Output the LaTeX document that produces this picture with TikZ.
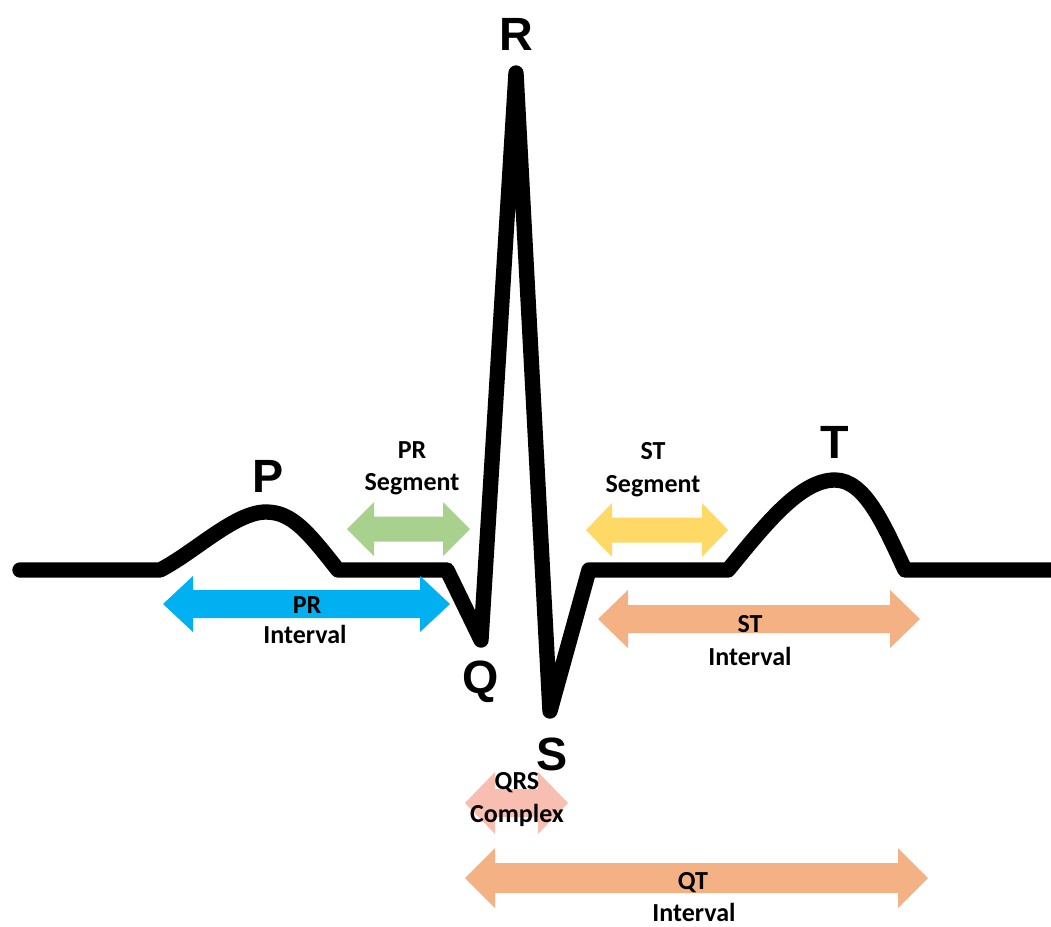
\documentclass[tikz,border=0pt]{standalone}
\usepackage{fontspec}
\setmainfont{Carlito}
\newfontfamily\wavefont{Liberation Sans}
\definecolor{prblue}{HTML}{00B0F0}
\definecolor{segreen}{HTML}{A9D18E}
\definecolor{segyellow}{HTML}{FFD966}
\definecolor{intorange}{HTML}{F4B183}
\definecolor{qrspink}{RGB}{248,190,178}
% colour, x1, x2, y, head length, head half height, shaft half height
\newcommand\blockarrow[7]{%
  \fill[#1] (#2,#4) -- (#2+#5,#4-#6) -- (#2+#5,#4-#7) -- (#3-#5,#4-#7) -- (#3-#5,#4-#6) -- (#3,#4)
    -- (#3-#5,#4+#6) -- (#3-#5,#4+#7) -- (#2+#5,#4+#7) -- (#2+#5,#4+#6) -- cycle;}
\begin{document}
\begin{tikzpicture}[x=0.75pt,y=-0.75pt,
  wave/.style={line width=11.5pt, line cap=round, line join=round},
  wavelabel/.style={font=\wavefont\bfseries\fontsize{35}{35}\selectfont, inner sep=0pt, anchor=base},
  lbl/.style={font=\bfseries\fontsize{19.5}{20}\selectfont, inner sep=0pt, anchor=base}]
\useasboundingbox (0,0) rectangle (1051,926);
\fill[white] (0,0) rectangle (1051,926);

% ECG trace
\draw[wave] (20,570) -- (160,570)
  .. controls (195,552) and (235,512) .. (266,512)
  .. controls (292,512) and (308,532) .. (338,570)
  -- (447,570) -- (481,640) -- (516,73) -- (550,711) -- (589,570) -- (728,570)
  .. controls (765,525) and (800,480) .. (835,480)
  .. controls (865,480) and (884,525) .. (905,570)
  -- (1065,570);

% block arrows
\blockarrow{prblue}{163}{450}{604}{30}{28}{14}
\blockarrow{segreen}{347}{470}{529}{27}{27}{12.5}
\blockarrow{segyellow}{586}{728}{530}{26}{27}{12.5}
\blockarrow{intorange}{598}{920}{619}{30}{29}{14}
\blockarrow{qrspink}{465}{568}{803}{30}{31}{14}
\blockarrow{intorange}{465}{928}{878}{30}{30}{15}

% wave letters
\node[wavelabel] (R) at (516,50) {R};
\node[wavelabel] (P) at (268,492) {P};
\node[wavelabel] (T) at (835,458) {T};
\node[wavelabel] (Q) at (481,693) {Q};
\node[wavelabel] (S) at (552,770) {S};

% labels
\node[lbl] (prseg1) at (412,458) {PR};
\node[lbl] (prseg2) at (412,490) {Segment};
\node[lbl] (stseg1) at (653,459) {ST};
\node[lbl] (stseg2) at (653,492) {Segment};
\node[lbl] (print1) at (307,613) {PR};
\node[lbl] (print2) at (305,643) {Interval};
\node[lbl] (stint1) at (750,632) {ST};
\node[lbl] (stint2) at (750,665) {Interval};
\node[lbl] (qrs1) at (517,789) {QRS};
\node[lbl] (qrs2) at (517,822) {Complex};
\node[lbl] (qt1) at (693,889) {QT};
\node[lbl] (qt2) at (694,921) {Interval};
\end{tikzpicture}
\end{document}
